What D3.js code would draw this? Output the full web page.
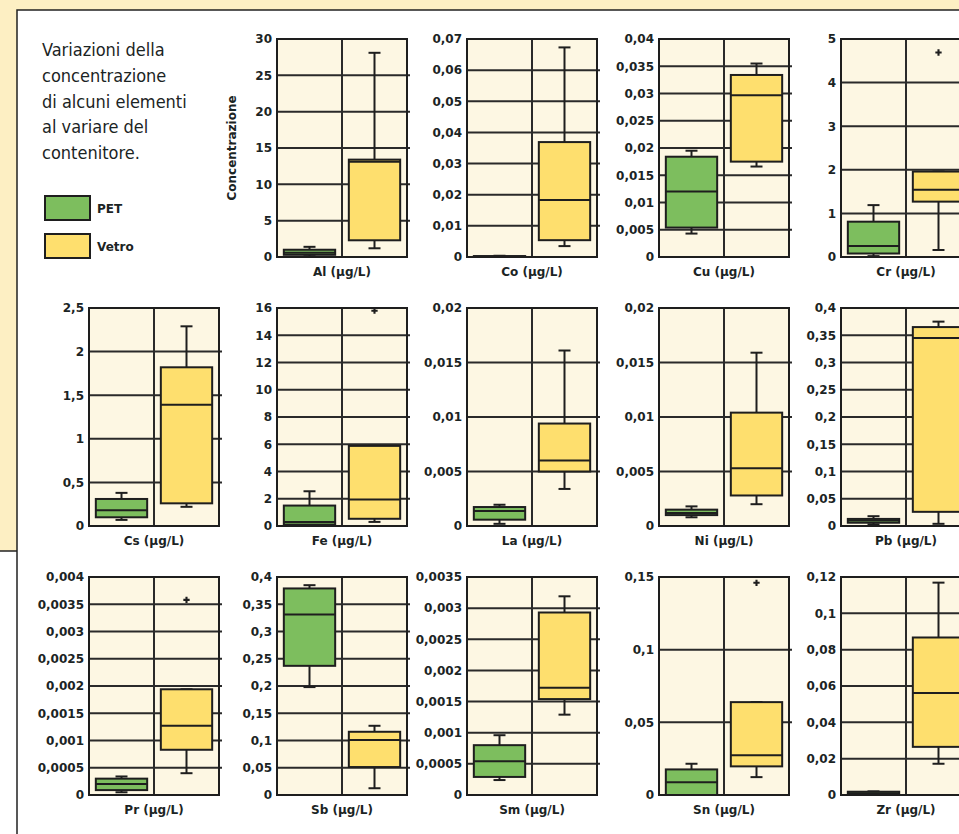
<!DOCTYPE html>
<html>
<head>
<meta charset="utf-8">
<script src="https://cdn.jsdelivr.net/npm/d3@7"></script>
<style>
  body { margin: 0; background: #fff; }
  text { fill: #1b2424; }
</style>
</head>
<body>
<div id="chart"></div>
<script>
// chart data
var elements = ["Al", "Co", "Cu", "Cr", "Cs", "Fe", "La", "Ni", "Pb", "Pr", "Sb", "Sm", "Sn", "Zr"];
var unitLabel = "(µg/L)";
var seriesNames = ["PET", "Vetro"];
var seriesColors = ["#7dbe5e", "#fedf6e"];

var tickValues = [
  [0, 5, 10, 15, 20, 25, 30],
  [0, 0.01, 0.02, 0.03, 0.04, 0.05, 0.06, 0.07],
  [0, 0.005, 0.01, 0.015, 0.02, 0.025, 0.03, 0.035, 0.04],
  [0, 1, 2, 3, 4, 5],
  [0, 0.5, 1, 1.5, 2, 2.5],
  [0, 2, 4, 6, 8, 10, 12, 14, 16],
  [0, 0.005, 0.01, 0.015, 0.02],
  [0, 0.005, 0.01, 0.015, 0.02],
  [0, 0.05, 0.1, 0.15, 0.2, 0.25, 0.3, 0.35, 0.4],
  [0, 0.0005, 0.001, 0.0015, 0.002, 0.0025, 0.003, 0.0035, 0.004],
  [0, 0.05, 0.1, 0.15, 0.2, 0.25, 0.3, 0.35, 0.4],
  [0, 0.0005, 0.001, 0.0015, 0.002, 0.0025, 0.003, 0.0035],
  [0, 0.05, 0.1, 0.15],
  [0, 0.02, 0.04, 0.06, 0.08, 0.1, 0.12]
];

// [min, q1, median, q3, max]
var petBox = [
  [0.1, 0.3, 0.6, 1.0, 1.4],
  [0, 0.0001, 0.0002, 0.0003, 0.0004],
  [0.0043, 0.0054, 0.012, 0.0184, 0.0195],
  [0.02, 0.08, 0.25, 0.81, 1.19],
  [0.07, 0.10, 0.18, 0.31, 0.38],
  [0, 0.1, 0.3, 1.5, 2.55],
  [0.0002, 0.00058, 0.00137, 0.00174, 0.00195],
  [0.0008, 0.001, 0.0012, 0.0015, 0.0018],
  [0.003, 0.006, 0.01, 0.013, 0.018],
  [0.00005, 0.00009, 0.0002, 0.0003, 0.00034],
  [0.198, 0.237, 0.331, 0.379, 0.385],
  [0.00024, 0.00029, 0.00054, 0.0008, 0.00096],
  [0, 0, 0.0088, 0.0176, 0.0215],
  [0, 0.0005, 0.001, 0.0018, 0.002]
];

var vetroBox = [
  [1.2, 2.3, 13.1, 13.4, 28.1],
  [0.0035, 0.0054, 0.0183, 0.0369, 0.0673],
  [0.0166, 0.0175, 0.0297, 0.0334, 0.0355],
  [0.16, 1.27, 1.54, 1.96, 1.96],
  [0.22, 0.26, 1.39, 1.82, 2.29],
  [0.3, 0.53, 1.94, 5.88, 5.88],
  [0.0034, 0.005, 0.006, 0.0094, 0.0161],
  [0.002, 0.0028, 0.0053, 0.0104, 0.0159],
  [0.004, 0.026, 0.345, 0.365, 0.375],
  [0.0004, 0.00083, 0.00127, 0.00194, 0.00194],
  [0.0124, 0.0513, 0.1007, 0.116, 0.127],
  [0.00129, 0.00154, 0.00172, 0.00293, 0.00319],
  [0.0123, 0.0197, 0.0274, 0.0639, 0.0639],
  [0.0172, 0.0265, 0.0561, 0.0867, 0.1169]
];

var vetroOutliers = [[], [], [], [4.69], [], [15.8], [], [], [], [0.00358], [], [], [0.146], []];

var noteLines = ["Variazioni della", "concentrazione", "di alcuni elementi", "al variare del", "contenitore."];
var yTitle = "Concentrazione";

var width = 959, height = 834;
var colX = [89, 277, 467, 659, 841];
var rowY = [39, 308, 577];
var pw = 130, ph = 218;
var labelFont = "'DejaVu Sans', sans-serif";
var fmt = function(d) { return String(d).replace(".", ","); };

var svg = d3.select("#chart").append("svg")
  .attr("width", width)
  .attr("height", height);

// page background: yellow sidebar strip + white sheet
svg.append("rect").attr("width", width).attr("height", height).attr("fill", "#fff");
svg.append("path")
  .attr("d", "M0,0H" + width + "V10H17V551H0Z")
  .attr("fill", "#fdefc3");
svg.append("path")
  .attr("d", "M17," + height + "V10H" + width)
  .attr("fill", "none").attr("stroke", "#222").attr("stroke-width", 1.5);
svg.append("path")
  .attr("d", "M0,551H17")
  .attr("fill", "none").attr("stroke", "#222").attr("stroke-width", 1.5);

// note text
svg.append("g").selectAll("text")
  .data(noteLines)
  .enter().append("text")
    .attr("x", 42)
    .attr("y", function(d, i) { return 56 + i * 25.8; })
    .style("font-family", "'Liberation Sans Narrow', 'DejaVu Sans Condensed', sans-serif")
    .style("font-size", "18px")
    .text(function(d) { return d; });

// legend
var legend = svg.append("g").selectAll("g")
  .data(seriesNames)
  .enter().append("g")
    .attr("transform", function(d, i) { return "translate(45," + (196 + i * 38) + ")"; });
legend.append("rect")
  .attr("width", 45).attr("height", 24)
  .attr("fill", function(d, i) { return seriesColors[i]; })
  .attr("stroke", "#1e1e1e").attr("stroke-width", 2);
legend.append("text")
  .attr("x", 52).attr("y", 17)
  .style("font-family", labelFont).style("font-weight", "bold").style("font-size", "12px")
  .text(function(d) { return d; });

elements.forEach(function(el, i) {
  var row, col;
  if (i < 4) { row = 0; col = i + 1; }
  else { row = Math.floor((i - 4) / 5) + 1; col = (i - 4) % 5; }
  var left = colX[col], top = rowY[row];
  var ticks = tickValues[i];

  var y = d3.scaleLinear()
    .domain([0, ticks[ticks.length - 1]])
    .range([top + ph, top]);
  var x = d3.scaleBand()
    .domain(seriesNames)
    .range([left, left + pw]);
  var bw = x.bandwidth() * 0.79;

  var g = svg.append("g");

  g.append("rect")
    .attr("x", left).attr("y", top)
    .attr("width", pw).attr("height", ph)
    .attr("fill", "#fdf7e3");

  // grid
  g.selectAll("line.grid")
    .data(ticks.slice(1, -1))
    .enter().append("line")
      .attr("class", "grid")
      .attr("x1", left).attr("x2", left + pw + 3)
      .attr("y1", function(d) { return y(d); })
      .attr("y2", function(d) { return y(d); })
      .attr("stroke", "#2a2a2a").attr("stroke-width", 2);
  g.append("line")
    .attr("x1", left + pw / 2).attr("x2", left + pw / 2)
    .attr("y1", top).attr("y2", top + ph)
    .attr("stroke", "#2a2a2a").attr("stroke-width", 2);

  // boxes
  [petBox[i], vetroBox[i]].forEach(function(s, k) {
    var cx = x(seriesNames[k]) + x.bandwidth() / 2;
    var bg = g.append("g")
      .attr("stroke", "#1e1e1e").attr("stroke-width", 2);
    bg.append("line")
      .attr("x1", cx).attr("x2", cx)
      .attr("y1", y(s[0])).attr("y2", y(s[4]));
    bg.selectAll("line.cap")
      .data([s[0], s[4]])
      .enter().append("line")
        .attr("class", "cap")
        .attr("x1", cx - 6).attr("x2", cx + 6)
        .attr("y1", function(d) { return y(d); })
        .attr("y2", function(d) { return y(d); });
    bg.append("rect")
      .attr("x", cx - bw / 2).attr("width", bw)
      .attr("y", y(s[3])).attr("height", Math.max(0.5, y(s[1]) - y(s[3])))
      .attr("fill", seriesColors[k]);
    bg.append("line")
      .attr("x1", cx - bw / 2).attr("x2", cx + bw / 2)
      .attr("y1", y(s[2])).attr("y2", y(s[2]));
    if (k === 1) {
      bg.selectAll("path.out")
        .data(vetroOutliers[i])
        .enter().append("path")
          .attr("class", "out")
          .attr("d", d3.symbol().type(d3.symbolCross).size(22))
          .attr("transform", function(d) { return "translate(" + cx + "," + y(d) + ")"; })
          .attr("fill", "#1e1e1e").attr("stroke", "none");
    }
  });

  // frame
  g.append("rect")
    .attr("x", left).attr("y", top)
    .attr("width", pw).attr("height", ph)
    .attr("fill", "none")
    .attr("stroke", "#1e1e1e").attr("stroke-width", 2);

  // y axis labels
  var axis = g.append("g")
    .attr("transform", "translate(" + left + ",0)")
    .call(d3.axisLeft(y).tickValues(ticks).tickSize(0).tickPadding(5).tickFormat(fmt));
  axis.select(".domain").remove();
  axis.selectAll("text")
    .style("font-family", labelFont).style("font-weight", "bold").style("font-size", "12px")
    .attr("fill", "#1b2424");

  // x label
  g.append("text")
    .attr("x", left + pw / 2).attr("y", top + ph + 19)
    .attr("text-anchor", "middle")
    .style("font-family", labelFont).style("font-weight", "bold").style("font-size", "12px")
    .text(el + " " + unitLabel);

  if (i === 0) {
    g.append("text")
      .attr("transform", "translate(236," + (top + ph / 2) + ") rotate(-90)")
      .attr("text-anchor", "middle")
      .style("font-family", labelFont).style("font-weight", "bold").style("font-size", "12px")
      .text(yTitle);
  }
});
</script>
</body>
</html>
